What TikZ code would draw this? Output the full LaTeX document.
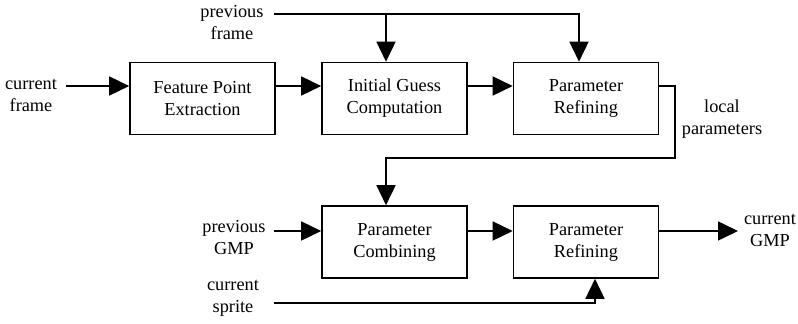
\documentclass[tikz,border=0pt]{standalone}
\usepackage{fontspec}
\setmainfont{Liberation Serif}
\usetikzlibrary{arrows.meta}
\begin{document}
\begin{tikzpicture}[x=1pt,y=-1pt,
  blk/.style={draw,line width=1.6pt,minimum width=145pt,minimum height=72pt,align=center,inner sep=0pt},
  lbl/.style={align=center,inner sep=0pt},
  conn/.style={line width=1.6pt},
  arr/.style={line width=1.6pt,-{Triangle[length=20pt,width=19pt]}},
  every node/.style={font=\fontsize{18.3pt}{22pt}\selectfont}]
\useasboundingbox (0,0) rectangle (798,324);
\node[blk] (b1) at (202.5,98.5) {Feature Point\\Extraction};
\node[blk] (b2) at (394.5,98.5) {Initial Guess\\Computation};
\node[blk] (b3) at (586,98.5) {Parameter\\Refining};
\node[blk] (b4) at (394.5,242) {Parameter\\Combining};
\node[blk] (b5) at (586,242) {Parameter\\Refining};
\node[lbl] (pf) at (232,23) {previous\\frame};
\node[lbl] (cf) at (31,95) {current\\frame};
\node[lbl] (lp) at (722,119) {local\\parameters};
\node[lbl] (pg) at (234,238) {previous\\GMP};
\node[lbl] (cs) at (233,298) {current\\sprite};
\node[lbl] (cg) at (770,230) {current\\GMP};
\coordinate (pfs) at (274,14);
\coordinate (cfs) at (66,86);
\coordinate (pgs) at (274,231);
\coordinate (css) at (274,303);
\coordinate (cge) at (738,231);
\coordinate (lp1) at (675,86);
\coordinate (lp2) at (675,158);
\draw[arr] (pfs) -| ([xshift=-7pt]b3.north);
\draw[arr] ([xshift=-8.5pt]b2.north |- pfs) -- ([xshift=-8.5pt]b2.north);
\draw[arr] (cfs) -- ([yshift=12.5pt]b1.west);
\draw[arr] ([yshift=12.5pt]b1.east) -- ([yshift=12.5pt]b2.west);
\draw[arr] ([yshift=12.5pt]b2.east) -- ([yshift=12.5pt]b3.west);
\draw[arr] ([yshift=12.5pt]b3.east) -- (lp1) -- (lp2) -| ([xshift=-8.5pt]b4.north);
\draw[arr] (pgs) -- ([yshift=11pt]b4.west);
\draw[arr] ([yshift=11pt]b4.east) -- ([yshift=11pt]b5.west);
\draw[arr] ([yshift=11pt]b5.east) -- (cge);
\draw[arr] (css) -| ([xshift=9pt]b5.south);
\end{tikzpicture}
\end{document}
